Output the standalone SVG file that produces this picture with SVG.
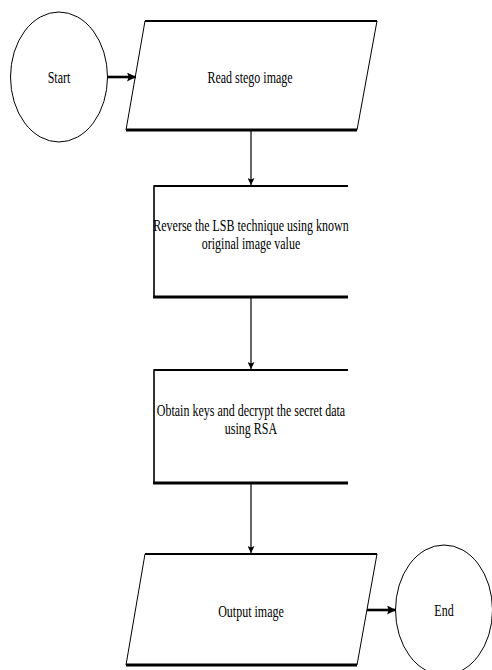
<svg xmlns="http://www.w3.org/2000/svg" width="492" height="670" viewBox="0 0 492 670">
<style>
.bg{fill:#fff}
.thin{fill:#fff;stroke:#000;stroke-width:1}
.edge{stroke:#000;fill:none}
.t{font-family:"Liberation Serif","Times New Roman",serif;font-size:12px;fill:#000;text-anchor:middle;dominant-baseline:central}
.c{stroke:#000;fill:none;stroke-width:1.2}
.ct{stroke:#000;fill:none;stroke-width:2.6}
</style>
<defs>
<marker id="ah" viewBox="0 0 10 10" refX="10" refY="5" markerWidth="8" markerHeight="7" markerUnits="userSpaceOnUse" orient="auto">
<path d="M0,0 L10,5 L0,10 L2,5 Z" fill="#000"/>
</marker>
<marker id="ah2" viewBox="0 0 10 10" refX="10" refY="5" markerWidth="9" markerHeight="9" markerUnits="userSpaceOnUse" orient="auto">
<path d="M0,0 L10,5 L0,10 L2,5 Z" fill="#000"/>
</marker>
</defs>
<rect class="bg" width="492" height="670"/>
<g id="start">
<ellipse class="thin" cx="59" cy="77" rx="48.5" ry="65"/>
<text class="t" transform="translate(59,77) scale(1,1.34)">Start</text>
</g>
<g id="read">
<polygon class="thin" points="145,21 377,21 357,130 126,130"/>
<line class="edge" x1="145" y1="21" x2="377" y2="21" stroke-width="2"/>
<line class="edge" x1="126" y1="130" x2="357" y2="130" stroke-width="3"/>
<text class="t" transform="translate(250,77) scale(1,1.34)">Read stego image</text>
</g>
<g id="reverse">
<rect x="154" y="186" width="194" height="111" fill="#fff"/>
<path class="edge" d="M348,186 H154 V297" stroke-width="1.6"/>
<line class="edge" x1="154" y1="186" x2="348" y2="186" stroke-width="2.2"/>
<line class="edge" x1="153" y1="297" x2="348" y2="297" stroke-width="3"/>
<text class="t" transform="translate(251,225) scale(1,1.34)">Reverse the LSB technique using known</text>
<text class="t" transform="translate(251,243) scale(1,1.34)">original image value</text>
</g>
<g id="decrypt">
<rect x="154" y="370" width="194" height="113" fill="#fff"/>
<path class="edge" d="M348,370 H154 V483" stroke-width="1.6"/>
<line class="edge" x1="154" y1="370" x2="348" y2="370" stroke-width="2.2"/>
<line class="edge" x1="153" y1="483" x2="348" y2="483" stroke-width="3"/>
<text class="t" transform="translate(251,410) scale(1,1.34)">Obtain keys and decrypt the secret data</text>
<text class="t" transform="translate(251,428) scale(1,1.34)">using RSA</text>
</g>
<g id="output">
<polygon class="thin" points="145,554 377,554 357,665 126,665"/>
<line class="edge" x1="145" y1="554" x2="377" y2="554" stroke-width="2"/>
<line class="edge" x1="126" y1="665" x2="357" y2="665" stroke-width="3"/>
<text class="t" transform="translate(251,611) scale(1,1.34)">Output image</text>
</g>
<g id="end">
<ellipse class="thin" cx="444" cy="610" rx="48.5" ry="65"/>
<text class="t" transform="translate(444,610) scale(1,1.34)">End</text>
</g>
<g id="connectors">
<line class="ct" x1="108" y1="77" x2="136" y2="77" marker-end="url(#ah2)"/>
<line class="c" x1="251" y1="131" x2="251" y2="185" marker-end="url(#ah)"/>
<line class="c" x1="251" y1="298" x2="251" y2="369" marker-end="url(#ah)"/>
<line class="c" x1="251" y1="484" x2="251" y2="553" marker-end="url(#ah)"/>
<line class="ct" x1="367" y1="610" x2="396" y2="610" marker-end="url(#ah2)"/>
</g>
</svg>
